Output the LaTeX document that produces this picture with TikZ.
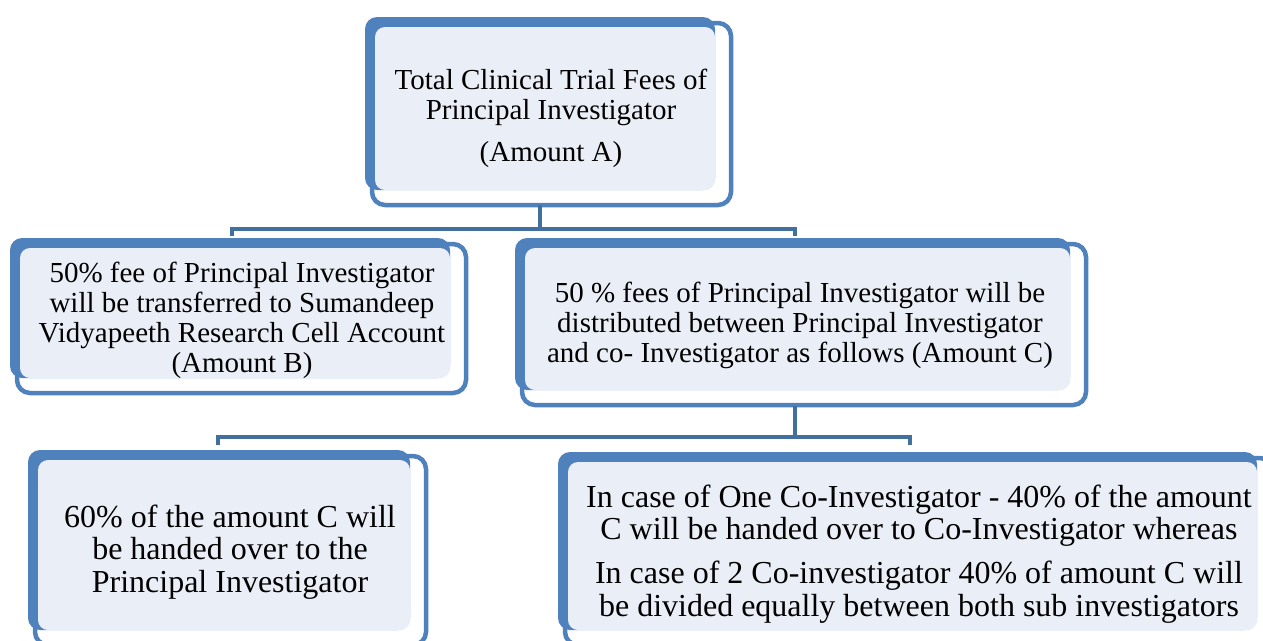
\documentclass[tikz,border=0pt]{standalone}
\usepackage{fontspec}
\newfontfamily\tnr{Liberation Serif}
\usetikzlibrary{calc}
\definecolor{boxblue}{HTML}{4F81BD}
\definecolor{boxfill}{HTML}{EAEFF7}
\definecolor{linkblue}{HTML}{41709F}
\newcommand{\diagbox}[5]{%
  \fill[boxblue, rounded corners=12pt] (#2,#3) rectangle (#4,#5);
  \fill[boxfill, rounded corners=10pt] ($(#2,#3)+(10,10)$) rectangle (#4,#5);
  \draw[boxblue, line width=4.5pt, rounded corners=13pt] ($(#2,#3)+(7,6)$) coordinate (#1-onw) rectangle ($(#4,#5)+(16,15)$) coordinate (#1-ose);
}
\tikzset{
  boxtext/.style={align=center, inner sep=0pt, font=\tnr\fontsize{29pt}{30pt}\selectfont},
  bigtext/.style={align=center, inner sep=0pt, font=\tnr\fontsize{32pt}{32.3pt}\selectfont},
  link/.style={draw=linkblue, line width=4pt}
}
\begin{document}
\begin{tikzpicture}[x=1pt,y=-1pt]
\useasboundingbox (0,0) rectangle (1263,640);
\clip (0,0) rectangle (1263,640);
\fill[white] (0,0) rectangle (1263,640);

\diagbox{A}{365}{17}{715}{190}
\diagbox{B}{10}{238}{450}{378}
\diagbox{C}{515}{238}{1070}{390}
\diagbox{D}{28}{450}{410}{630}
\diagbox{E}{558}{452}{1257}{630}

\node[boxtext] (tA) at (551,118) {Total Clinical Trial Fees of\\Principal Investigator\\[12pt](Amount A)};
\node[boxtext] (tB) at (242,320) {50\% fee of Principal Investigator\\will be transferred to Sumandeep\\Vidyapeeth Research Cell Account\\(Amount B)};
\node[boxtext] (tC) at (800,325) {50 \% fees of Principal Investigator will be\\distributed between Principal Investigator\\and co- Investigator as follows (Amount C)};
\node[bigtext] (tD) at (230,552) {60\% of the amount C will\\be handed over to the\\Principal Investigator};
\node[bigtext] (tE) at (919,554) {In case of One Co-Investigator - 40\% of the amount\\C will be handed over to Co-Investigator whereas\\[12pt]In case of 2 Co-investigator 40\% of amount C will\\be divided equally between both sub investigators};

% connector 1
\coordinate (a-out) at (540,205);
\coordinate (j1) at (540,229);
\coordinate (j1l) at (232,229);
\coordinate (j1r) at (795,229);
\coordinate (b-in) at (232,236);
\coordinate (c-in) at (795,236);
\draw[link] (a-out) -- (j1);
\draw[link] (b-in) -- (j1l) -- (j1r) -- (c-in);

% connector 2
\coordinate (c-out) at (795,406);
\coordinate (j2) at (795,437);
\coordinate (j2l) at (218,437);
\coordinate (j2r) at (910,437);
\coordinate (d-in) at (218,445);
\coordinate (e-in) at (910,445);
\draw[link] (c-out) -- (j2);
\draw[link] (d-in) -- (j2l) -- (j2r) -- (e-in);
\end{tikzpicture}
\end{document}
